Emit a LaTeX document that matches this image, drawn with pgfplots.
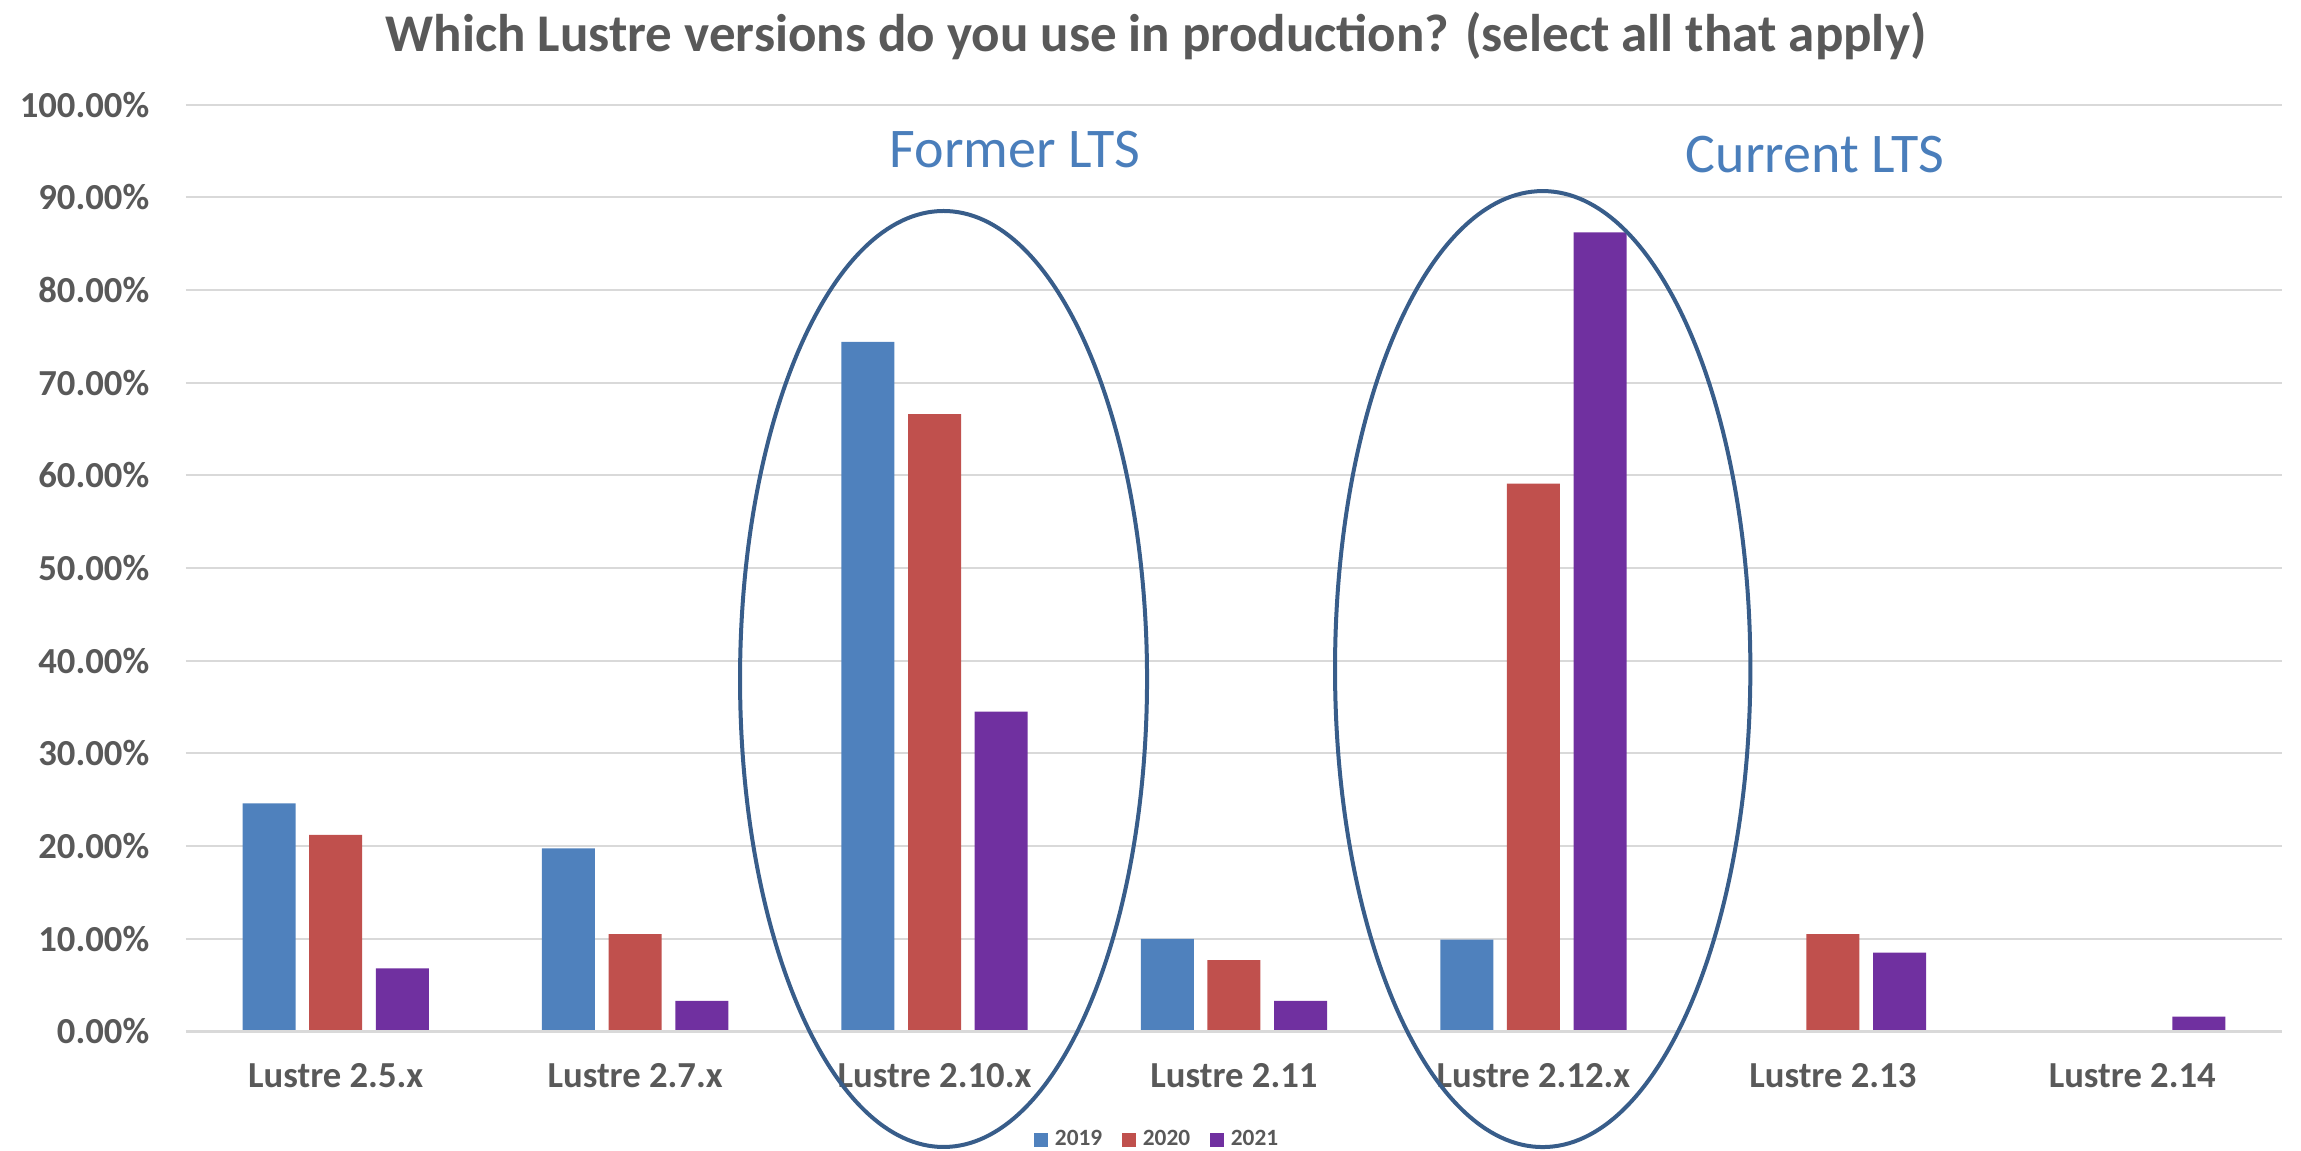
\documentclass[border=0pt]{standalone}
\usepackage{pgfplots}
\pgfplotsset{compat=1.18}
\usepackage{fontspec}
\setmainfont{Carlito}
\definecolor{cBlue}{HTML}{4F81BD}
\definecolor{cRed}{HTML}{C0504D}
\definecolor{cPurple}{HTML}{7030A0}
\definecolor{cText}{HTML}{595959}
\definecolor{cGrid}{HTML}{D9D9D9}
\definecolor{cEll}{HTML}{385D8A}
\definecolor{cAnn}{HTML}{4A7EBB}
\begin{document}
\begin{tikzpicture}
\path[use as bounding box, x=0.3pt, y=0.3pt] (0,0) rectangle (2301,1151);
\node[text=cText, font=\fontsize{15.9}{18}\selectfont\bfseries, anchor=center] at (346.8pt,334.6pt) {Which Lustre versions do you use in production? (select all that apply)};
\begin{axis}[
  at={(55.8pt,35.85pt)}, anchor=south west,
  scale only axis, width=628.8pt, height=278.07pt,
  ybar,
  xmin=-0.5, xmax=6.5, ymin=0, ymax=100,
  xtick={0,1,2,3,4,5,6},
  xticklabels={Lustre 2.5.x,Lustre 2.7.x,Lustre 2.10.x,Lustre 2.11,Lustre 2.12.x,Lustre 2.13,Lustre 2.14},
  ytick={0,10,...,100},
  yticklabel={\pgfmathprintnumber[fixed,fixed zerofill,precision=2,assume math mode=true]{\tick}\%},
  major tick length=0pt,
  axis line style={draw=none},
  axis x line*=bottom, axis y line*=left,
  ymajorgrids, grid style={cGrid, line width=0.6pt},
  ticklabel style={text=cText, font=\fontsize{11}{13}\selectfont\bfseries},
  yticklabel style={xshift=-7.5pt},
  xticklabel style={yshift=-6pt},
  bar width=15.9pt,
  clip=false,
  legend columns=3,
  legend style={draw=none, fill=none, at={(0.4645,-0.117)}, anchor=center,
    font=\fontsize{7}{8}\selectfont\bfseries, text=cText,
    /tikz/every even column/.append style={column sep=4pt},
    inner sep=0pt},
  legend image code/.code={\fill[#1] (0pt,-2.1pt) rectangle (4.2pt,2.1pt);},
]
\addplot[fill=cBlue, draw=none, bar shift=-20pt] coordinates {(0,24.6) (1,19.75) (2,74.4) (3,10.0) (4,9.9)};
\addplot[fill=cRed, draw=none, bar shift=0pt] coordinates {(0,21.2) (1,10.5) (2,66.6) (3,7.7) (4,59.1) (5,10.5)};
\addplot[fill=cPurple, draw=none, bar shift=20pt] coordinates {(0,6.8) (1,3.3) (2,34.5) (3,3.3) (4,86.2) (5,8.5) (6,1.6)};
\legend{2019,2020,2021}
\draw[cGrid, line width=0.8pt] (axis cs:-0.5,0) -- (axis cs:6.5,0);
\draw[cEll, line width=1.2pt] (axis cs:2.03,38.03) ellipse [x radius=61.05pt, y radius=140.4pt];
\draw[cEll, line width=1.2pt] (axis cs:4.031,39.1) ellipse [x radius=62.3pt, y radius=143.4pt];
\node[text=cAnn, font=\fontsize{16.8}{19}\selectfont] at (axis cs:2.269,95.2) {Former LTS};
\node[text=cAnn, font=\fontsize{16.8}{19}\selectfont] at (axis cs:4.94,94.6) {Current LTS};
\end{axis}
\end{tikzpicture}
\end{document}
